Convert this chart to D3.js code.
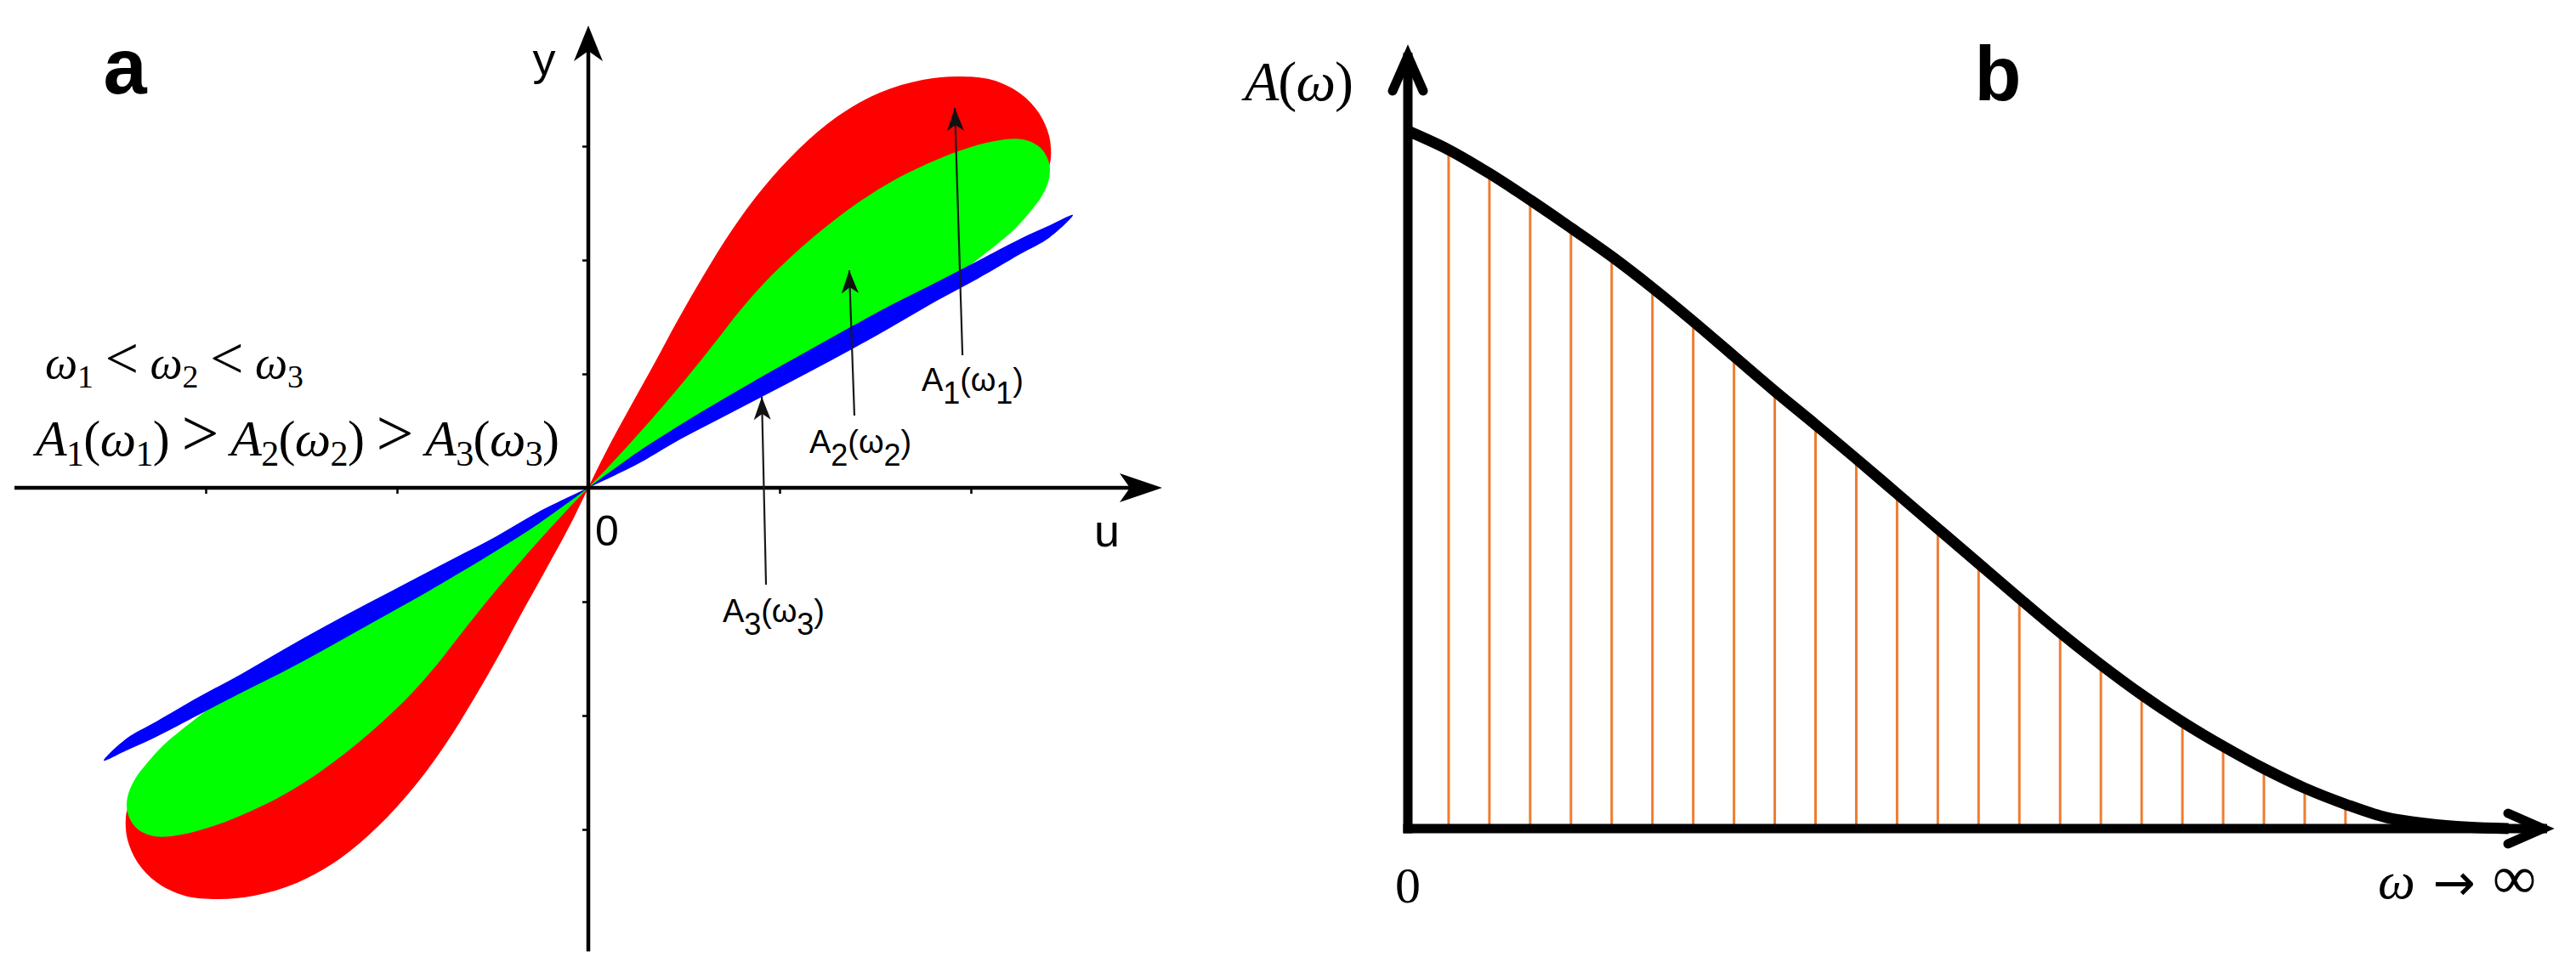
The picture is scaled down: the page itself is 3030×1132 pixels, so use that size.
<!DOCTYPE html>
<html>
<head>
<meta charset="utf-8">
<script src="https://cdn.jsdelivr.net/npm/d3@7"></script>
<style>
  body { margin: 0; background: #fff; }
  svg { display: block; }
</style>
</head>
<body>
<div id="chart"></div>
<script>
// ---- panel a: outlines of the upper-right lobe of each loop, in (u, y) units
// (the lower-left lobe is the same lobe turned half a turn round the origin)
const redLoop = [
  [0, 0], [0.062, 0.216], [0.124, 0.418], [0.236, 0.761], [0.347, 1.097], [0.467, 1.47],
  [0.6, 1.858], [0.747, 2.254], [0.911, 2.627], [1.102, 2.978], [1.302, 3.261], [1.524, 3.47],
  [1.747, 3.582], [1.933, 3.612], [2.111, 3.582], [2.258, 3.463], [2.356, 3.291], [2.409, 3.09],
  [2.418, 2.903], [2.404, 2.806], [2.258, 2.493], [1.813, 2.045], [1.369, 1.522], [0.924, 1.112],
  [0.48, 0.582], [0.213, 0.306], [0, 0]
];
const greenLoop = [
  [0, 0], [0.102, 0.179], [0.213, 0.381], [0.347, 0.634], [0.502, 0.94], [0.68, 1.313],
  [0.791, 1.552], [0.924, 1.806], [1.08, 2.06], [1.236, 2.284], [1.413, 2.507], [1.591, 2.694],
  [1.769, 2.843], [1.947, 2.963], [2.124, 3.045], [2.271, 3.06], [2.364, 2.985], [2.409, 2.851],
  [2.409, 2.716], [2.373, 2.567], [2.307, 2.418], [2.222, 2.261], [2.133, 2.134], [2.071, 2.052],
  [1.813, 1.731], [1.369, 1.321], [0.924, 0.903], [0.48, 0.485], [0.213, 0.216], [0, 0]
];
const blueLoop = [
  [0, 0], [0.258, 0.313], [0.48, 0.552], [0.702, 0.776], [0.924, 0.993], [1.147, 1.201],
  [1.369, 1.41], [1.591, 1.612], [1.813, 1.799], [2.036, 1.993], [2.258, 2.187], [2.413, 2.306],
  [2.533, 2.396], [2.413, 2.2], [2.258, 2.052], [2.036, 1.836], [1.813, 1.634], [1.591, 1.418],
  [1.369, 1.209], [1.147, 1.01], [0.924, 0.813], [0.702, 0.619], [0.48, 0.425], [0.258, 0.209], [0, 0]
];
const xTicksA = [-2, -1, 1, 2];
const yTicksA = [-3, -2, -1, 1, 2, 3];
// labelled arrows: tail, head, label start (u, y)
const pointers = [
  { k: "1", tail: [1.956, 1.164], head: [1.916, 3.336], label: [1.742, 0.851] },
  { k: "2", tail: [1.391, 0.634], head: [1.364, 1.91], label: [1.156, 0.306] },
  { k: "3", tail: [0.929, -0.851], head: [0.907, 0.799], label: [0.702, -1.179] }
];

// ---- panel b: amplitude spectrum A(w)
const omegaB = [0, 1, 2, 3, 4, 5, 6, 7, 8, 9, 10, 11, 12, 13, 14, 15, 16, 17, 18, 19, 20, 21, 22, 23, 24, 25, 26, 27];
const ampB = [1.000, 0.973, 0.939, 0.901, 0.861, 0.820, 0.775, 0.727, 0.677, 0.627, 0.579, 0.530, 0.480, 0.430,
              0.380, 0.330, 0.281, 0.235, 0.192, 0.153, 0.118, 0.086, 0.058, 0.035, 0.016, 0.007, 0.002, 0.000];
const hatchOmega = [1, 2, 3, 4, 5, 6, 7, 8, 9, 10, 11, 12, 13, 14, 15, 16, 17, 18, 19, 20, 21, 22, 23];

const W = 3030, H = 1132;
const serif = "'Liberation Serif', 'DejaVu Serif', serif";
const sans = "'Liberation Sans', Arial, sans-serif";

const svg = d3.select("#chart").append("svg")
    .attr("width", W)
    .attr("height", H);
svg.append("rect").attr("width", W).attr("height", H).attr("fill", "#fff");

// text made of pieces: [string, kind]  kind: "i" italic, "s" subscript, "o" relation sign, "r" roman
function mathText(g, x, y, size, family, parts, opt) {
  opt = opt || {};
  const subScale = opt.subScale || 0.7, drop = opt.drop || size * 0.2, opScale = opt.opScale || 1;
  const t = g.append("text")
      .attr("x", x).attr("y", y)
      .attr("font-size", size)
      .attr("font-family", family)
      .style("white-space", "pre");
  let down = false;
  parts.forEach(([s, kind]) => {
    const sp = t.append("tspan").text(s);
    if (kind === "i") sp.attr("font-style", "italic");
    if (kind === "o") sp.attr("font-size", size * opScale);
    if (kind === "s") {
      sp.attr("font-size", size * subScale);
      if (!down) { sp.attr("dy", drop); down = true; }
    } else if (down) {
      sp.attr("dy", -drop);
      down = false;
    }
  });
  if (opt.len) t.attr("textLength", opt.len).attr("lengthAdjust", "spacing");
  if (opt.anchor) t.attr("text-anchor", opt.anchor);
  return t;
}

// ================= panel a =================
const xA = d3.scaleLinear().domain([-3, 3]).range([17, 1367]);
const yA = d3.scaleLinear().domain([-4, 4]).range([1110, 38]);
const gA = svg.append("g");

const lobe = d3.line()
    .x(d => xA(d[0]))
    .y(d => yA(d[1]))
    .curve(d3.curveCatmullRom.alpha(0.5));

[[redLoop, "#ff0000"], [greenLoop, "#00ff00"], [blueLoop, "#0000ff"]].forEach(([pts, col]) => {
  gA.append("path").attr("d", lobe(pts) + "Z").attr("fill", col);
  gA.append("path").attr("d", lobe(pts) + "Z").attr("fill", col)
      .attr("transform", `rotate(180 ${xA(0)} ${yA(0)})`);
});

// ticks
gA.append("g")
    .attr("transform", `translate(0,${yA(0)})`)
    .call(d3.axisBottom(xA).tickValues(xTicksA).tickSize(7).tickFormat(""))
    .call(g => g.select(".domain").remove())
    .call(g => g.selectAll("line").attr("stroke-width", 2.5));
gA.append("g")
    .attr("transform", `translate(${xA(0)},0)`)
    .call(d3.axisLeft(yA).tickValues(yTicksA).tickSize(7).tickFormat(""))
    .call(g => g.select(".domain").remove())
    .call(g => g.selectAll("line").attr("stroke-width", 2.5));

// axis lines + filled arrow heads
const ax0 = xA(0), ay0 = yA(0), xTip = xA(3), yTip = yA(4.06);
gA.append("line")
    .attr("x1", xA(-3)).attr("x2", xTip - 30)
    .attr("y1", ay0).attr("y2", ay0)
    .attr("stroke", "#000").attr("stroke-width", 4.5);
gA.append("line")
    .attr("x1", ax0).attr("x2", ax0)
    .attr("y1", yA(-4.07)).attr("y2", yTip + 30)
    .attr("stroke", "#000").attr("stroke-width", 4.5);
gA.append("path")
    .attr("d", `M${xTip},${ay0} L${xTip - 50},${ay0 - 17} L${xTip - 38},${ay0} L${xTip - 50},${ay0 + 17} Z`)
    .attr("fill", "#000");
gA.append("path")
    .attr("d", `M${ax0},${yTip} L${ax0 - 17},${yTip + 42} L${ax0},${yTip + 30} L${ax0 + 17},${yTip + 42} Z`)
    .attr("fill", "#000");

// axis labels
gA.append("text").attr("x", 640).attr("y", 88).attr("text-anchor", "middle")
    .attr("font-family", sans).attr("font-size", 54).text("y");
gA.append("text").attr("x", 1302).attr("y", 643).attr("text-anchor", "middle")
    .attr("font-family", sans).attr("font-size", 54).text("u");
gA.append("text").attr("x", 714).attr("y", 642).attr("text-anchor", "middle")
    .attr("font-family", sans).attr("font-size", 50).text("0");

// pointer arrows with labels
pointers.forEach(p => {
  const x1 = xA(p.tail[0]), y1 = yA(p.tail[1]);
  const x2 = xA(p.head[0]), y2 = yA(p.head[1]);
  const ang = Math.atan2(y2 - y1, x2 - x1) * 180 / Math.PI;
  gA.append("line")
      .attr("x1", x1).attr("y1", y1).attr("x2", x2).attr("y2", y2)
      .attr("stroke", "#1a1a1a").attr("stroke-width", 2.2);
  gA.append("path")
      .attr("d", "M0,0 L-27,-10 L-20,0 L-27,10 Z")
      .attr("fill", "#111")
      .attr("transform", `translate(${x2},${y2}) rotate(${ang})`);
  mathText(gA, xA(p.label[0]), yA(p.label[1]), 38, sans,
    [["A", "r"], [p.k, "s"], ["(", "r"], ["\u03c9", "r"], [p.k, "s"], [")", "r"]],
    { subScale: 0.95, drop: 15, len: 120 });
});

// relations on the left
mathText(gA, 53, 445, 54, serif,
  [["\u03c9", "i"], ["1", "s"], [" ", "r"], ["<", "o"], [" ", "r"], ["\u03c9", "i"], ["2", "s"],
   [" ", "r"], ["<", "o"], [" ", "r"], ["\u03c9", "i"], ["3", "s"]],
  { opScale: 1.3, len: 304 });
mathText(gA, 42, 536, 60, serif,
  [["A", "i"], ["1", "s"], ["(", "r"], ["\u03c9", "i"], ["1", "s"], [") ", "r"], [">", "o"], [" ", "r"],
   ["A", "i"], ["2", "s"], ["(", "r"], ["\u03c9", "i"], ["2", "s"], [") ", "r"], [">", "o"], [" ", "r"],
   ["A", "i"], ["3", "s"], ["(", "r"], ["\u03c9", "i"], ["3", "s"], [")", "r"]],
  { opScale: 1.3, len: 616 });

gA.append("text").attr("x", 147).attr("y", 110).attr("text-anchor", "middle")
    .attr("font-family", sans).attr("font-weight", "bold").attr("font-size", 92).text("a");

// ================= panel b =================
const xB = d3.scaleLinear().domain([0, 28]).range([1656, 1656 + 28 * 47.95]);
const yB = d3.scaleLinear().domain([0, 1]).range([975, 154]);
const gB = svg.append("g");
const spectrum = omegaB.map((w, i) => ({ w: w, a: ampB[i] }));

gB.selectAll("line.hatch")
  .data(spectrum.filter(d => hatchOmega.includes(d.w)))
  .join("line")
    .attr("class", "hatch")
    .attr("x1", d => xB(d.w)).attr("x2", d => xB(d.w))
    .attr("y1", yB(0)).attr("y2", d => yB(d.a))
    .attr("stroke", "#ed7d31").attr("stroke-width", 3);

gB.append("path")
    .datum(spectrum)
    .attr("d", d3.line().x(d => xB(d.w)).y(d => yB(d.a)).curve(d3.curveCatmullRom.alpha(0.5)))
    .attr("fill", "none")
    .attr("stroke", "#000")
    .attr("stroke-width", 13);

// axes with open arrow heads
gB.append("line")
    .attr("x1", xB(0)).attr("x2", xB(0))
    .attr("y1", yB(0) + 5.5).attr("y2", 62)
    .attr("stroke", "#000").attr("stroke-width", 11);
gB.append("line")
    .attr("x1", xB(0) - 5.5).attr("x2", 2996)
    .attr("y1", yB(0)).attr("y2", yB(0))
    .attr("stroke", "#000").attr("stroke-width", 11);
gB.append("path")
    .attr("d", `M${xB(0) - 18},107 L${xB(0)},66 L${xB(0) + 18},107`)
    .attr("fill", "none").attr("stroke", "#000").attr("stroke-width", 11)
    .attr("stroke-linecap", "round").attr("stroke-linejoin", "miter");
gB.append("path")
    .attr("d", `M2950,${yB(0) - 18} L2991,${yB(0)} L2950,${yB(0) + 18}`)
    .attr("fill", "none").attr("stroke", "#000").attr("stroke-width", 11)
    .attr("stroke-linecap", "round").attr("stroke-linejoin", "miter");

// labels
mathText(gB, 1592, 118, 66, serif, [["A", "i"], ["(", "r"], ["\u03c9", "i"], [")", "r"]],
  { len: 128, anchor: "end" });
gB.append("text").attr("x", xB(0)).attr("y", 1062).attr("text-anchor", "middle")
    .attr("font-family", serif).attr("font-size", 60).text("0");
gB.append("text").attr("x", 2797).attr("y", 1057)
    .attr("font-family", serif).attr("font-style", "italic").attr("font-size", 62).text("\u03c9");
gB.append("text").attr("x", 2887).attr("y", 1059).attr("text-anchor", "middle")
    .attr("font-family", "'DejaVu Sans', sans-serif").attr("font-size", 60).text("\u2192");
gB.append("text").attr("x", 2983).attr("y", 1057).attr("text-anchor", "end")
    .attr("font-family", serif).attr("font-size", 72).text("\u221e");

gB.append("text").attr("x", 2350).attr("y", 118).attr("text-anchor", "middle")
    .attr("font-family", sans).attr("font-weight", "bold").attr("font-size", 90).text("b");
</script>
</body>
</html>
